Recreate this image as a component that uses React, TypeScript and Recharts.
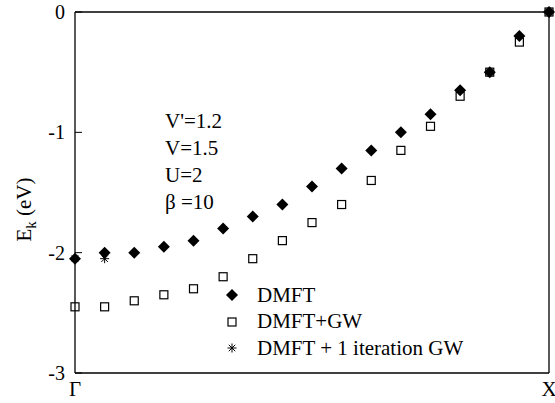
import React from 'react';
import { ScatterChart, Scatter, XAxis, YAxis, Legend, Customized } from 'recharts';

// k-points along the Γ → X path (index along the path)
const kPoints = [0, 1, 2, 3, 4, 5, 6, 7, 8, 9, 10, 11, 12, 13, 14, 15, 16];
const kTickValues = [0, 16];
const kTickLabels = ['Γ', 'X'];

// Quasiparticle band energies E_k (eV)
const dmftEnergy = [-2.05, -2.0, -2.0, -1.95, -1.9, -1.8, -1.7, -1.6, -1.45, -1.3, -1.15, -1.0, -0.85, -0.65, -0.5, -0.2, 0];
const gwEnergy = [-2.45, -2.45, -2.4, -2.35, -2.3, -2.2, -2.05, -1.9, -1.75, -1.6, -1.4, -1.15, -0.95, -0.7, -0.5, -0.25, 0];
const gwOneIterEnergy = [-2.05, -2.05];

const energyTicks = [-3, -2, -1, 0];
const paramLines = ["V'=1.2", 'V=1.5', 'U=2', 'β =10'];
const seriesNames = ['DMFT', 'DMFT+GW', 'DMFT + 1 iteration GW'];

const toPoints = (vals: number[]) => vals.map((e, i) => ({ k: kPoints[i], e }));

const FONT = 'serif';

type ShapeProps = { cx?: number; cy?: number };

const Diamond = ({ cx = 0, cy = 0 }: ShapeProps) => {
  const r = 6;
  return <path d={`M${cx},${cy - r}L${cx + r},${cy}L${cx},${cy + r}L${cx - r},${cy}Z`} fill="#000" />;
};

const OpenSquare = ({ cx = 0, cy = 0 }: ShapeProps) => (
  <rect x={cx - 4} y={cy - 4} width={8} height={8} fill="none" stroke="#000" strokeWidth={1.2} />
);

const Asterisk = ({ cx = 0, cy = 0 }: ShapeProps) => {
  const r = 4.5;
  const d = r * 0.72;
  return (
    <g stroke="#000" strokeWidth={1}>
      <line x1={cx} y1={cy - r} x2={cx} y2={cy + r} />
      <line x1={cx - r} y1={cy} x2={cx + r} y2={cy} />
      <line x1={cx - d} y1={cy - d} x2={cx + d} y2={cy + d} />
      <line x1={cx - d} y1={cy + d} x2={cx + d} y2={cy - d} />
    </g>
  );
};

const markerFor: Record<string, (p: ShapeProps) => React.ReactElement> = {
  [seriesNames[0]]: Diamond,
  [seriesNames[1]]: OpenSquare,
  [seriesNames[2]]: Asterisk,
};

const LegendContent = () => (
  <div style={{ fontFamily: FONT, fontSize: 21, color: '#000' }}>
    {seriesNames.map((name) => {
      const Marker = markerFor[name];
      return (
        <div key={name} style={{ display: 'flex', alignItems: 'center', height: 26.5 }}>
          <svg width={16} height={16} style={{ overflow: 'visible' }}>
            <Marker cx={8} cy={8} />
          </svg>
          <span style={{ marginLeft: 17, whiteSpace: 'nowrap', lineHeight: '21px' }}>{name}</span>
        </div>
      );
    })}
  </div>
);

const ParamText = () => (
  <g fontFamily={FONT} fontSize={21} fill="#000">
    {paramLines.map((t, i) => (
      <text key={t} x={165} y={128 + i * 27} fontFamily={FONT}>
        {t}
      </text>
    ))}
  </g>
);

const YLabel = (props: any) => {
  const vb = props.viewBox || {};
  const cy = (vb.y ?? 12) + (vb.height ?? 361) / 2 + 17;
  const cx = 31;
  return (
    <text
      x={cx}
      y={cy}
      transform={`rotate(-90, ${cx}, ${cy})`}
      textAnchor="middle"
      fontFamily={FONT}
      fontSize={21}
      fill="#000"
    >
      E<tspan fontSize={15} dy={5}>k</tspan>
      <tspan dy={-5}> (eV)</tspan>
    </text>
  );
};

const tickStyle = { fill: '#000', fontSize: 20, fontFamily: FONT };

export default function App() {
  return (
    <div style={{ position: 'absolute', left: 0, top: 0, width: 555, height: 403, background: '#fff', fontFamily: FONT }}>
      <ScatterChart width={555} height={403} margin={{ top: 0, right: 0, bottom: 0, left: 0 }}>
        <XAxis
          xAxisId="b"
          dataKey="k"
          type="number"
          domain={[0, 16]}
          ticks={kTickValues}
          tickFormatter={(v: number) => kTickLabels[kTickValues.indexOf(v)] ?? ''}
          height={30}
          tickLine={false}
          tickSize={0}
          tickMargin={8}
          axisLine={{ stroke: '#000', strokeWidth: 1.3 }}
          tick={{ ...tickStyle, fontSize: 21 }}
          interval={0}
        />
        <XAxis
          xAxisId="t"
          orientation="top"
          type="number"
          domain={[0, 16]}
          height={12}
          tick={false}
          tickLine={false}
          axisLine={{ stroke: '#000', strokeWidth: 1.3 }}
        />
        <YAxis
          yAxisId="l"
          dataKey="e"
          type="number"
          domain={[-3, 0]}
          ticks={energyTicks}
          width={75}
          tickSize={-7}
          tickMargin={17}
          interval={0}
          axisLine={{ stroke: '#000', strokeWidth: 1.3 }}
          tickLine={{ stroke: '#000', strokeWidth: 1 }}
          tick={tickStyle}
          label={<YLabel />}
        />
        <YAxis
          yAxisId="r"
          orientation="right"
          type="number"
          domain={[-3, 0]}
          ticks={energyTicks}
          width={6}
          tickSize={-7}
          interval={0}
          tickFormatter={() => ''}
          axisLine={{ stroke: '#000', strokeWidth: 1.3 }}
          tickLine={{ stroke: '#000', strokeWidth: 1 }}
        />
        <Scatter
          name={seriesNames[1]}
          data={toPoints(gwEnergy)}
          xAxisId="b"
          yAxisId="l"
          shape={(p: any) => <OpenSquare cx={p.cx} cy={p.cy} />}
          isAnimationActive={false}
        />
        <Scatter
          name={seriesNames[2]}
          data={toPoints(gwOneIterEnergy)}
          xAxisId="b"
          yAxisId="l"
          shape={(p: any) => <Asterisk cx={p.cx} cy={p.cy} />}
          isAnimationActive={false}
        />
        <Scatter
          name={seriesNames[0]}
          data={toPoints(dmftEnergy)}
          xAxisId="b"
          yAxisId="l"
          shape={(p: any) => <Diamond cx={p.cx} cy={p.cy} />}
          isAnimationActive={false}
        />
        <Customized component={ParamText} />
        <Legend
          layout="vertical"
          align="center"
          verticalAlign="middle"
          content={<LegendContent />}
          wrapperStyle={{ left: 224, top: 282, width: 280 }}
        />
      </ScatterChart>
    </div>
  );
}
